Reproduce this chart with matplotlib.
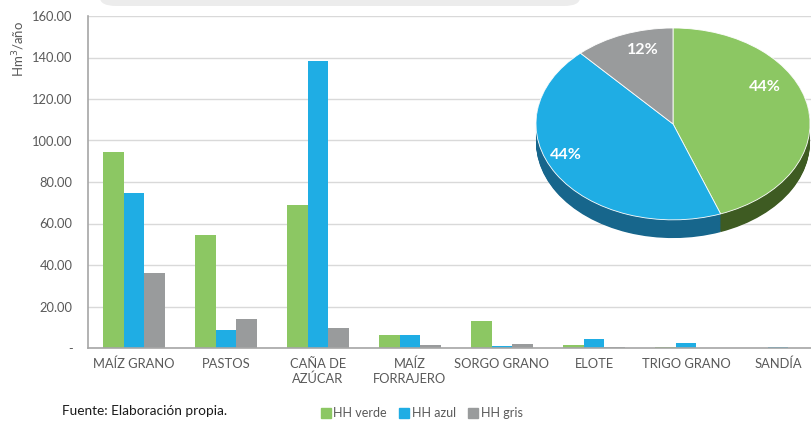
import matplotlib
matplotlib.use("Agg")
import matplotlib.pyplot as plt
import numpy as np
from matplotlib.patches import FancyBboxPatch
from matplotlib.lines import Line2D

plt.rcParams['font.family'] = ['Lato', 'DejaVu Sans']

categories = ["MAÍZ GRANO", "PASTOS", "CAÑA DE\nAZÚCAR", "MAÍZ\nFORRAJERO",
              "SORGO GRANO", "ELOTE", "TRIGO GRANO", "SANDÍA"]
hh_verde = [94.5, 54.5, 69.0, 6.3, 12.9, 1.5, 0.4, 0.0]
hh_azul = [74.7, 8.7, 138.3, 6.3, 1.0, 4.2, 2.6, 0.6]
hh_gris = [36.1, 14.0, 9.5, 1.5, 2.0, 0.5, 0.0, 0.0]
series_names = ["HH verde", "HH azul", "HH gris"]
yticks = [0, 20, 40, 60, 80, 100, 120, 140, 160]
ytick_labels = ["-", "20.00", "40.00", "60.00", "80.00", "100.00", "120.00", "140.00", "160.00"]

colors = ["#8cc763", "#1fade4", "#999b9c"]
side_colors = ["#3e5b22", "#17668c", "#5e6061"]
tick_color = "#595959"

W, H = 812, 422
fig = plt.figure(figsize=(W / 100, H / 100), dpi=100)

# decorative light header band
band = FancyBboxPatch((100 / W, (H - 6) / H), 480 / W, 30 / H,
                      boxstyle="round,pad=0,rounding_size=0.02",
                      transform=fig.transFigure, fc="#ececec", ec="none")
fig.patches.append(band)

ax = fig.add_axes([88 / W, (H - 348) / H, 736 / W, 332 / H])
x = np.arange(len(categories))
w = 0.223
for i, vals in enumerate([hh_verde, hh_azul, hh_gris]):
    ax.bar(x + (i - 1) * w, vals, width=w, color=colors[i], zorder=2)

ax.set_xlim(-0.5, len(categories) - 0.5)
ax.set_ylim(0, 160)
ax.set_yticks(yticks)
ax.set_yticklabels(ytick_labels)
ax.set_xticks(x)
ax.set_xticklabels(categories, linespacing=1.25)
ax.tick_params(axis='both', length=0, colors=tick_color, labelsize=9.3)
ax.tick_params(axis='y', pad=11)
ax.tick_params(axis='x', pad=7)
ax.grid(axis='y', color="#d9d9d9", linewidth=1, zorder=0)
for s in ["top", "right"]:
    ax.spines[s].set_visible(False)
ax.spines["left"].set_color("#a6a6a6")
ax.spines["bottom"].set_color("#a6a6a6")
ax.spines["left"].set_linewidth(1.2)
ax.spines["bottom"].set_linewidth(1.2)

fig.text(19 / W, (H - 49) / H, "Hm$^3$/año", rotation=90, ha="center", va="center",
         fontsize=9.5, color=tick_color)

# pie chart (pseudo 3D)
totals = [sum(hh_verde), sum(hh_azul), sum(hh_gris)]
pax = fig.add_axes([536 / W, (H - 240) / H, 274 / W, 212 / H])
depth = 0.19
for d in np.linspace(depth, 0.005, 25):
    pax.pie(totals, colors=side_colors, startangle=90, counterclock=False,
            center=(0, -d), radius=1, wedgeprops=dict(linewidth=0))
wedges, texts, autotexts = pax.pie(totals, colors=colors, startangle=90, counterclock=False,
                                   center=(0, 0), radius=1, autopct="%1.0f%%", pctdistance=0.72,
                                   wedgeprops=dict(linewidth=0.6, edgecolor="white"),
                                   textprops=dict(color="white", fontsize=11.5, fontweight="bold"))
label_pos = [(0.67, 0.39), (-0.78, -0.32), (-0.22, 0.77)]
for t, p in zip(autotexts, label_pos):
    t.set_position(p)
pax.set_aspect("auto")
pax.set_xlim(-1, 1)
pax.set_ylim(-1 - depth - 0.02, 1)
pax.axis("off")

fig.text(62 / W, (H - 411) / H, "Fuente: Elaboración propia.", ha="left", va="center",
         fontsize=9.8, color="#1a1a1a")

handles = [Line2D([0], [0], marker="s", linestyle="none", markersize=6.5,
                  markerfacecolor=c, markeredgecolor=c) for c in colors]
fig.legend(handles, series_names, loc="center", bbox_to_anchor=(421 / W, (H - 413) / H),
           ncol=3, frameon=False, fontsize=9, handletextpad=0.1, columnspacing=0.9,
           labelcolor=tick_color, handlelength=1.0)

fig.savefig("out.png", dpi=100)
